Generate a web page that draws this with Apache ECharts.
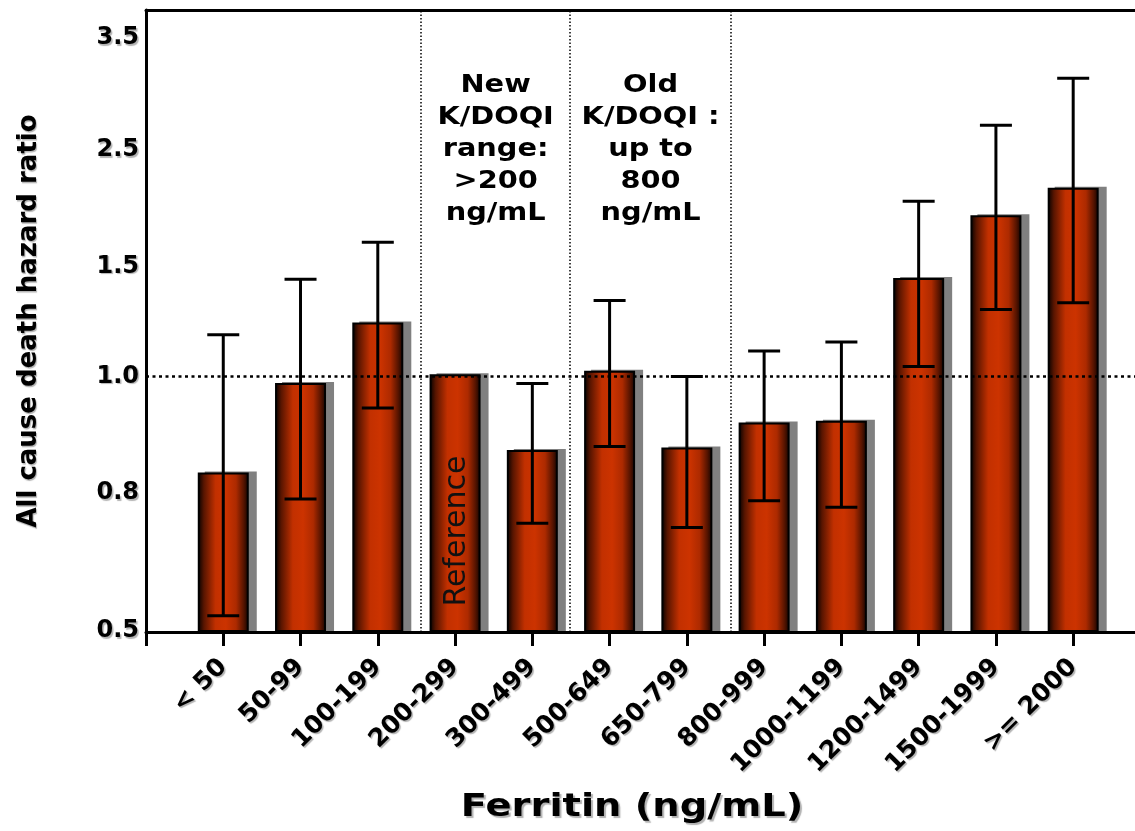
<!DOCTYPE html>
<html>
<head>
<meta charset="utf-8">
<script src="https://cdn.jsdelivr.net/npm/echarts@6/dist/echarts.min.js"></script>
<style>
html,body{margin:0;padding:0;background:#ffffff;}
#chart{width:1135px;height:831px;}
</style>
</head>
<body>
<div id="chart"></div>
<script>
// ---------------- DATA ----------------
const CATEGORIES = ['< 50', '50-99', '100-199', '200-299', '300-499', '500-649', '650-799', '800-999', '1000-1199', '1200-1499', '1500-1999', '>= 2000'];
const HAZARD   = [0.835, 0.989, 1.245, 1.01, 0.874, 1.026, 0.878, 0.921, 0.924, 1.448, 1.94, 2.176];
const CI_LOW   = [0.533, 0.787, 0.946, null, 0.734, 0.880, 0.725, 0.783, 0.769, 1.045, 1.305, 1.335];
const CI_HIGH  = [1.19, 1.442, 1.708, null, 0.988, 1.346, 1.0, 1.116, 1.157, 2.06, 2.72, 3.14];
const Y_TICK_VALUES = [0.5, 0.8, 1.0, 1.5, 2.5, 3.5];
const Y_TICK_LABELS = ['0.5', '0.8', '1.0', '1.5', '2.5', '3.5'];
const REFERENCE_INDEX = 3;
const NOTE_NEW = 'New\nK/DOQI\nrange:\n>200\nng/mL';
const NOTE_OLD = 'Old\nK/DOQI :\nup to\n800\nng/mL';

// ---------------- LAYOUT ----------------
// The original axis is drawn with unevenly spaced ticks; positions of each tick on the axis:
const Y_TICK_POS = [1, 139, 255.5, 365.5, 482, 594];
const DIVIDERS = [3.56, 5.49, 7.57];
function toPos(v) {
  const t = Y_TICK_VALUES, p = Y_TICK_POS;
  let i = 0;
  while (i < t.length - 2 && v > t[i + 1]) i++;
  return p[i] + (v - t[i]) / (t[i + 1] - t[i]) * (p[i + 1] - p[i]);
}
const FONT = 'DejaVu Sans';
const BAR_W = 51;
const SHADOW_DX = 7;
const txtShadow = {textShadowColor: 'rgba(0,0,0,0.3)', textShadowOffsetX: 1.5, textShadowOffsetY: 1.5, textShadowBlur: 1};

const barData = HAZARD.map((v, i) => [i + 1, toPos(v)]);
const errData = [];
HAZARD.forEach((v, i) => {
  if (CI_LOW[i] != null && CI_HIGH[i] != null) errData.push([i + 1, toPos(CI_LOW[i]), toPos(CI_HIGH[i])]);
});

const barGradient = new echarts.graphic.LinearGradient(0, 0, 1, 0, [
  {offset: 0, color: '#000000'},
  {offset: 0.12, color: '#581500'},
  {offset: 0.35, color: '#c23000'},
  {offset: 0.55, color: '#cc3300'},
  {offset: 0.75, color: '#ad2a00'},
  {offset: 0.9, color: '#561400'},
  {offset: 1, color: '#100300'}
]);

const chart = echarts.init(document.getElementById('chart'), null, {renderer: 'canvas'});
const option = {
  animation: false,
  backgroundColor: '#ffffff',
  grid: {left: 146, right: 0, top: 10, bottom: 199},
  xAxis: [{
    type: 'value', min: 0, max: 12.8,
    axisLine: {show: true, onZero: false, lineStyle: {color: '#000', width: 3}},
    axisTick: {show: true, length: 14, lineStyle: {color: '#000', width: 3}, customValues: [0,1,2,3,4,5,6,7,8,9,10,11,12]},
    axisLabel: {
      customValues: [1,2,3,4,5,6,7,8,9,10,11,12],
      formatter: v => CATEGORIES[Math.round(v) - 1] || '',
      rotate: 45, margin: 31, color: '#000',
      fontFamily: FONT, fontWeight: 'bold', fontSize: 25, ...txtShadow
    },
    splitLine: {show: false}
  }, {
    type: 'value', min: 0, max: 12.8, position: 'top',
    axisLine: {show: true, onZero: false, lineStyle: {color: '#000', width: 3}},
    axisTick: {show: false}, axisLabel: {show: false}, splitLine: {show: false}
  }],
  yAxis: {
    type: 'value', min: 0, max: 622,
    axisLine: {show: true, onZero: false, lineStyle: {color: '#000', width: 3}},
    axisTick: {show: false},
    splitLine: {show: false},
    axisLabel: {
      customValues: Y_TICK_POS,
      formatter: v => { const k = Y_TICK_POS.indexOf(v); return k >= 0 ? Y_TICK_LABELS[k] : ''; },
      margin: 7, color: '#000', fontFamily: FONT, fontWeight: 'bold', fontSize: 24, ...txtShadow
    }
  },
  series: [{
    type: 'line', data: [], z: 1, silent: true,
    markLine: {
      silent: true, symbol: 'none', label: {show: false},
      lineStyle: {color: '#000'},
      data: [
        {yAxis: toPos(1.0), lineStyle: {type: [3, 3.5], width: 2.5, color: '#000'}},
        ...DIVIDERS.map(d => ({xAxis: d, lineStyle: {type: [1.5, 2], width: 1.5, color: '#000'}}))
      ]
    }
  }, {
    // gray drop shadow behind each bar
    type: 'custom', z: 2, silent: true,
    data: barData,
    encode: {x: 0, y: 1},
    renderItem: function (params, api) {
      const top = api.coord([api.value(0), api.value(1)]);
      const base = api.coord([api.value(0), 0]);
      return {type: 'rect', shape: {x: top[0] - BAR_W / 2 + SHADOW_DX, y: top[1] - 1, width: BAR_W + 1, height: base[1] - top[1]},
        style: {fill: '#808080'}};
    }
  }, {
    type: 'bar', z: 3,
    data: barData,
    barWidth: BAR_W,
    itemStyle: {color: barGradient, borderColor: '#000', borderWidth: 2}
  }, {
    type: 'custom', z: 4,
    data: errData,
    encode: {x: 0, y: [1, 2]},
    renderItem: function (params, api) {
      const x = api.value(0);
      const lo = api.coord([x, api.value(1)]);
      const hi = api.coord([x, api.value(2)]);
      const half = 16;
      const st = {stroke: '#000', lineWidth: 3};
      return {type: 'group', children: [
        {type: 'line', shape: {x1: lo[0], y1: lo[1], x2: hi[0], y2: hi[1]}, style: st},
        {type: 'line', shape: {x1: lo[0] - half, y1: lo[1], x2: lo[0] + half, y2: lo[1]}, style: st},
        {type: 'line', shape: {x1: hi[0] - half, y1: hi[1], x2: hi[0] + half, y2: hi[1]}, style: st}
      ]};
    }
  }]
};
chart.setOption(option);

const px = (x, y) => chart.convertToPixel({gridIndex: 0}, [x, y]);
const newX = px((DIVIDERS[0] + DIVIDERS[1]) / 2, 0)[0];
const oldX = px((DIVIDERS[1] + DIVIDERS[2]) / 2, 0)[0];
const refPt = px(REFERENCE_INDEX + 1, 0);
const noteStyle = {fill: '#000', font: 'bold 24px "DejaVu Sans"', align: 'center', verticalAlign: 'middle', lineHeight: 32};
chart.setOption({
  graphic: [
    {type: 'text', x: newX, y: 150, scaleX: 1.2, style: Object.assign({text: NOTE_NEW}, noteStyle), z: 10},
    {type: 'text', x: oldX, y: 150, scaleX: 1.2, style: Object.assign({text: NOTE_OLD}, noteStyle), z: 10},
    {type: 'text', x: refPt[0] + 2, y: 531, rotation: Math.PI / 2, z: 10,
      style: {text: 'Reference', fill: '#111', font: '30px "DejaVu Sans"', align: 'center', verticalAlign: 'middle',
        textShadowColor: 'rgba(200,200,200,0.9)', textShadowOffsetX: 2, textShadowOffsetY: 0, textShadowBlur: 0}},
    {type: 'text', x: 632, y: 808, scaleX: 1.2, z: 10,
      style: {text: 'Ferritin (ng/mL)', fill: '#000', font: 'bold 32px "DejaVu Sans"', align: 'center', verticalAlign: 'middle',
        textShadowColor: 'rgba(0,0,0,0.3)', textShadowOffsetX: 2, textShadowOffsetY: 2, textShadowBlur: 1}},
    {type: 'text', x: 29, y: 321, rotation: Math.PI / 2, z: 10,
      style: {text: 'All cause death hazard ratio', fill: '#000', font: 'bold 26px "DejaVu Sans"', align: 'center', verticalAlign: 'middle',
        textShadowColor: 'rgba(0,0,0,0.3)', textShadowOffsetX: 1.5, textShadowOffsetY: 1.5, textShadowBlur: 1}}
  ]
});
</script>
</body>
</html>
